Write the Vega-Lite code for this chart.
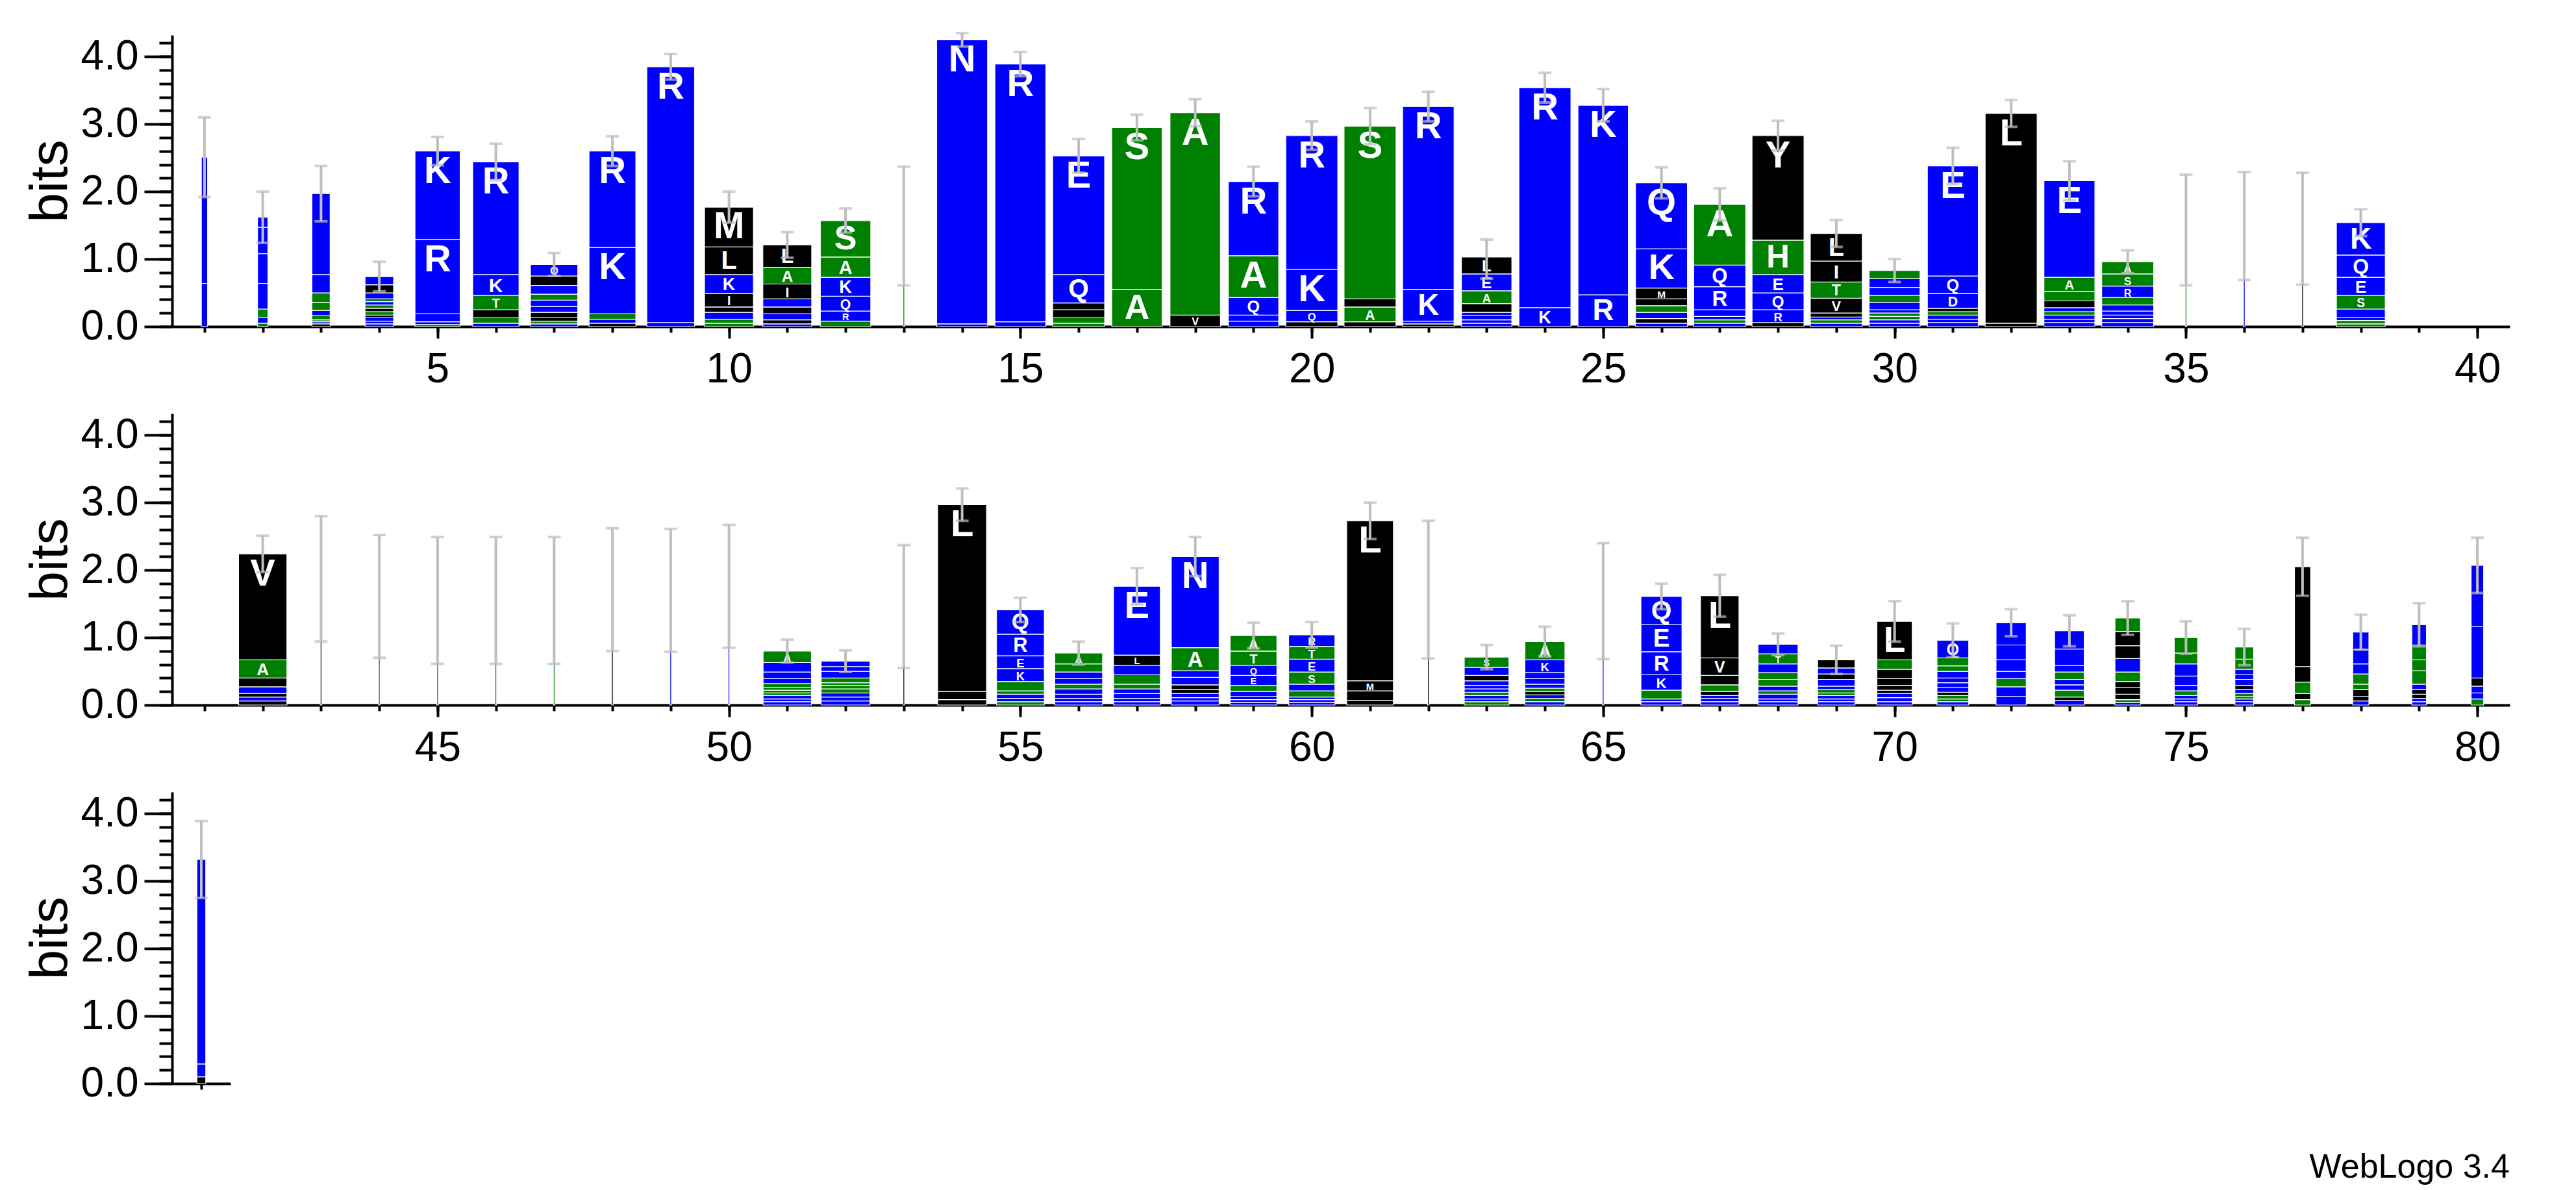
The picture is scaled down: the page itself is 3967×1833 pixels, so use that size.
{
"$schema": "https://vega.github.io/schema/vega-lite/v6.json",
"background": "white",
"padding": {"left": 36, "top": 48, "right": 10, "bottom": 10},
"spacing": 36,
"title": {"text": "WebLogo 3.4", "orient": "bottom", "anchor": "end", "fontSize": 52, "font": "Liberation Sans", "fontWeight": "normal", "color": "black", "offset": 72},
"config": {"view": {"stroke": null}, "axis": {"domainColor": "black", "tickColor": "black", "labelColor": "black", "titleColor": "black", "labelFont": "Liberation Sans", "titleFont": "Liberation Sans", "grid": false, "domainWidth": 4, "tickWidth": 4, "labelFlush": false, "labelOverlap": false}},
"datasets": {
"l1": [
{"p":1,"o":1,"l":"D","b":0.64,"w":0.12},{"p":1,"o":2,"l":"E","b":1.87,"w":0.12},
{"p":2,"o":1,"l":"S","b":0.05,"w":0.2},{"p":2,"o":2,"l":"D","b":0.08,"w":0.2},{"p":2,"o":3,"l":"P","b":0.13,"w":0.2},{"p":2,"o":4,"l":"E","b":0.38,"w":0.2},{"p":2,"o":5,"l":"R","b":0.44,"w":0.2},{"p":2,"o":6,"l":"K","b":0.39,"w":0.2},{"p":2,"o":7,"l":"N","b":0.15,"w":0.2},
{"p":3,"o":1,"l":"I","b":0.04,"w":0.35},{"p":3,"o":2,"l":"R","b":0.03,"w":0.35},{"p":3,"o":3,"l":"T","b":0.03,"w":0.35},{"p":3,"o":4,"l":"G","b":0.06,"w":0.35},{"p":3,"o":5,"l":"Q","b":0.08,"w":0.35},{"p":3,"o":6,"l":"A","b":0.12,"w":0.35},{"p":3,"o":7,"l":"S","b":0.14,"w":0.35},{"p":3,"o":8,"l":"D","b":0.27,"w":0.35},{"p":3,"o":9,"l":"E","b":1.2,"w":0.35},
{"p":4,"o":1,"l":"R","b":0.04,"w":0.55},{"p":4,"o":2,"l":"Q","b":0.04,"w":0.55},{"p":4,"o":3,"l":"N","b":0.05,"w":0.55},{"p":4,"o":4,"l":"V","b":0.04,"w":0.55},{"p":4,"o":5,"l":"T","b":0.05,"w":0.55},{"p":4,"o":6,"l":"I","b":0.05,"w":0.55},{"p":4,"o":7,"l":"S","b":0.05,"w":0.55},{"p":4,"o":8,"l":"K","b":0.05,"w":0.55},{"p":4,"o":9,"l":"A","b":0.04,"w":0.55},{"p":4,"o":10,"l":"D","b":0.09,"w":0.55},{"p":4,"o":11,"l":"L","b":0.12,"w":0.55},{"p":4,"o":12,"l":"E","b":0.12,"w":0.55},
{"p":5,"o":1,"l":"S","b":0.03,"w":0.87},{"p":5,"o":2,"l":"D","b":0.04,"w":0.87},{"p":5,"o":3,"l":"Q","b":0.12,"w":0.87},{"p":5,"o":4,"l":"R","b":1.1,"w":0.87},{"p":5,"o":5,"l":"K","b":1.31,"w":0.87},
{"p":6,"o":1,"l":"E","b":0.05,"w":0.89},{"p":6,"o":2,"l":"A","b":0.08,"w":0.89},{"p":6,"o":3,"l":"V","b":0.12,"w":0.89},{"p":6,"o":4,"l":"T","b":0.21,"w":0.89},{"p":6,"o":5,"l":"K","b":0.31,"w":0.89},{"p":6,"o":6,"l":"R","b":1.67,"w":0.89},
{"p":7,"o":1,"l":"D","b":0.04,"w":0.91},{"p":7,"o":2,"l":"S","b":0.04,"w":0.91},{"p":7,"o":3,"l":"I","b":0.05,"w":0.91},{"p":7,"o":4,"l":"V","b":0.08,"w":0.91},{"p":7,"o":5,"l":"E","b":0.09,"w":0.91},{"p":7,"o":6,"l":"K","b":0.09,"w":0.91},{"p":7,"o":7,"l":"A","b":0.09,"w":0.91},{"p":7,"o":8,"l":"R","b":0.13,"w":0.91},{"p":7,"o":9,"l":"L","b":0.14,"w":0.91},{"p":7,"o":10,"l":"Q","b":0.17,"w":0.91},
{"p":8,"o":1,"l":"L","b":0.05,"w":0.9},{"p":8,"o":2,"l":"E","b":0.06,"w":0.9},{"p":8,"o":3,"l":"S","b":0.08,"w":0.9},{"p":8,"o":4,"l":"K","b":0.98,"w":0.9},{"p":8,"o":5,"l":"R","b":1.43,"w":0.9},
{"p":9,"o":1,"l":"K","b":0.06,"w":0.92},{"p":9,"o":2,"l":"R","b":3.79,"w":0.92},
{"p":10,"o":1,"l":"T","b":0.05,"w":0.94},{"p":10,"o":2,"l":"A","b":0.06,"w":0.94},{"p":10,"o":3,"l":"E","b":0.1,"w":0.94},{"p":10,"o":4,"l":"V","b":0.08,"w":0.94},{"p":10,"o":5,"l":"I","b":0.2,"w":0.94},{"p":10,"o":6,"l":"K","b":0.28,"w":0.94},{"p":10,"o":7,"l":"L","b":0.41,"w":0.94},{"p":10,"o":8,"l":"M","b":0.59,"w":0.94},
{"p":11,"o":1,"l":"R","b":0.04,"w":0.94},{"p":11,"o":2,"l":"M","b":0.06,"w":0.94},{"p":11,"o":3,"l":"E","b":0.09,"w":0.94},{"p":11,"o":4,"l":"V","b":0.1,"w":0.94},{"p":11,"o":5,"l":"Q","b":0.12,"w":0.94},{"p":11,"o":6,"l":"I","b":0.22,"w":0.94},{"p":11,"o":7,"l":"A","b":0.25,"w":0.94},{"p":11,"o":8,"l":"L","b":0.33,"w":0.94},
{"p":12,"o":1,"l":"G","b":0.08,"w":0.97},{"p":12,"o":2,"l":"R","b":0.15,"w":0.97},{"p":12,"o":3,"l":"Q","b":0.22,"w":0.97},{"p":12,"o":4,"l":"K","b":0.28,"w":0.97},{"p":12,"o":5,"l":"A","b":0.3,"w":0.97},{"p":12,"o":6,"l":"S","b":0.54,"w":0.97},
{"p":13,"o":1,"l":"S","b":1.49,"w":0.03},
{"p":14,"o":1,"l":"K","b":0.04,"w":0.98},{"p":14,"o":2,"l":"N","b":4.21,"w":0.98},
{"p":15,"o":1,"l":"K","b":0.07,"w":0.98},{"p":15,"o":2,"l":"R","b":3.82,"w":0.98},
{"p":16,"o":1,"l":"S","b":0.05,"w":1},{"p":16,"o":2,"l":"A","b":0.08,"w":1},{"p":16,"o":3,"l":"V","b":0.12,"w":1},{"p":16,"o":4,"l":"L","b":0.1,"w":1},{"p":16,"o":5,"l":"Q","b":0.42,"w":1},{"p":16,"o":6,"l":"E","b":1.76,"w":1},
{"p":17,"o":1,"l":"A","b":0.55,"w":0.97},{"p":17,"o":2,"l":"S","b":2.4,"w":0.97},
{"p":18,"o":1,"l":"V","b":0.17,"w":0.97},{"p":18,"o":2,"l":"A","b":3.0,"w":0.97},
{"p":19,"o":1,"l":"E","b":0.08,"w":0.97},{"p":19,"o":2,"l":"K","b":0.09,"w":0.97},{"p":19,"o":3,"l":"Q","b":0.26,"w":0.97},{"p":19,"o":4,"l":"A","b":0.62,"w":0.97},{"p":19,"o":5,"l":"R","b":1.1,"w":0.97},
{"p":20,"o":1,"l":"L","b":0.07,"w":1},{"p":20,"o":2,"l":"Q","b":0.17,"w":1},{"p":20,"o":3,"l":"K","b":0.61,"w":1},{"p":20,"o":4,"l":"R","b":1.98,"w":1},
{"p":21,"o":1,"l":"V","b":0.07,"w":1},{"p":21,"o":2,"l":"A","b":0.22,"w":1},{"p":21,"o":3,"l":"Y","b":0.12,"w":1},{"p":21,"o":4,"l":"S","b":2.56,"w":1},
{"p":22,"o":1,"l":"I","b":0.04,"w":0.99},{"p":22,"o":2,"l":"E","b":0.04,"w":0.99},{"p":22,"o":3,"l":"K","b":0.47,"w":0.99},{"p":22,"o":4,"l":"R","b":2.71,"w":0.99},
{"p":23,"o":1,"l":"Q","b":0.05,"w":0.97},{"p":23,"o":2,"l":"R","b":0.05,"w":0.97},{"p":23,"o":3,"l":"K","b":0.06,"w":0.97},{"p":23,"o":4,"l":"D","b":0.05,"w":0.97},{"p":23,"o":5,"l":"M","b":0.13,"w":0.97},{"p":23,"o":6,"l":"A","b":0.19,"w":0.97},{"p":23,"o":7,"l":"E","b":0.25,"w":0.97},{"p":23,"o":8,"l":"L","b":0.25,"w":0.97},
{"p":24,"o":1,"l":"K","b":0.28,"w":1},{"p":24,"o":2,"l":"R","b":3.26,"w":1},
{"p":25,"o":1,"l":"R","b":0.47,"w":0.97},{"p":25,"o":2,"l":"K","b":2.81,"w":0.97},
{"p":26,"o":1,"l":"E","b":0.05,"w":1},{"p":26,"o":2,"l":"I","b":0.07,"w":1},{"p":26,"o":3,"l":"R","b":0.09,"w":1},{"p":26,"o":4,"l":"A","b":0.1,"w":1},{"p":26,"o":5,"l":"L","b":0.1,"w":1},{"p":26,"o":6,"l":"M","b":0.16,"w":1},{"p":26,"o":7,"l":"K","b":0.58,"w":1},{"p":26,"o":8,"l":"Q","b":0.98,"w":1},
{"p":27,"o":1,"l":"E","b":0.05,"w":1},{"p":27,"o":2,"l":"S","b":0.05,"w":1},{"p":27,"o":3,"l":"N","b":0.05,"w":1},{"p":27,"o":4,"l":"K","b":0.1,"w":1},{"p":27,"o":5,"l":"R","b":0.34,"w":1},{"p":27,"o":6,"l":"Q","b":0.32,"w":1},{"p":27,"o":7,"l":"A","b":0.9,"w":1},
{"p":28,"o":1,"l":"L","b":0.06,"w":1},{"p":28,"o":2,"l":"R","b":0.19,"w":1},{"p":28,"o":3,"l":"Q","b":0.25,"w":1},{"p":28,"o":4,"l":"E","b":0.27,"w":1},{"p":28,"o":5,"l":"H","b":0.51,"w":1},{"p":28,"o":6,"l":"Y","b":1.55,"w":1},
{"p":29,"o":1,"l":"K","b":0.05,"w":1},{"p":29,"o":2,"l":"A","b":0.05,"w":1},{"p":29,"o":3,"l":"E","b":0.04,"w":1},{"p":29,"o":4,"l":"M","b":0.06,"w":1},{"p":29,"o":5,"l":"V","b":0.22,"w":1},{"p":29,"o":6,"l":"T","b":0.24,"w":1},{"p":29,"o":7,"l":"I","b":0.31,"w":1},{"p":29,"o":8,"l":"L","b":0.41,"w":1},
{"p":30,"o":1,"l":"R","b":0.05,"w":0.98},{"p":30,"o":2,"l":"K","b":0.05,"w":0.98},{"p":30,"o":3,"l":"T","b":0.05,"w":0.98},{"p":30,"o":4,"l":"G","b":0.05,"w":0.98},{"p":30,"o":5,"l":"N","b":0.05,"w":0.98},{"p":30,"o":6,"l":"Q","b":0.11,"w":0.98},{"p":30,"o":7,"l":"S","b":0.1,"w":0.98},{"p":30,"o":8,"l":"D","b":0.12,"w":0.98},{"p":30,"o":9,"l":"E","b":0.13,"w":0.98},{"p":30,"o":10,"l":"A","b":0.12,"w":0.98},
{"p":31,"o":1,"l":"K","b":0.06,"w":0.98},{"p":31,"o":2,"l":"R","b":0.05,"w":0.98},{"p":31,"o":3,"l":"N","b":0.06,"w":0.98},{"p":31,"o":4,"l":"S","b":0.05,"w":0.98},{"p":31,"o":5,"l":"L","b":0.05,"w":0.98},{"p":31,"o":6,"l":"D","b":0.22,"w":0.98},{"p":31,"o":7,"l":"Q","b":0.26,"w":0.98},{"p":31,"o":8,"l":"E","b":1.63,"w":0.98},
{"p":32,"o":1,"l":"I","b":0.05,"w":1},{"p":32,"o":2,"l":"L","b":3.11,"w":1},
{"p":33,"o":1,"l":"Q","b":0.06,"w":0.98},{"p":33,"o":2,"l":"K","b":0.05,"w":0.98},{"p":33,"o":3,"l":"D","b":0.06,"w":0.98},{"p":33,"o":4,"l":"S","b":0.05,"w":0.98},{"p":33,"o":5,"l":"R","b":0.06,"w":0.98},{"p":33,"o":6,"l":"W","b":0.1,"w":0.98},{"p":33,"o":7,"l":"T","b":0.14,"w":0.98},{"p":33,"o":8,"l":"A","b":0.21,"w":0.98},{"p":33,"o":9,"l":"E","b":1.43,"w":0.98},
{"p":34,"o":1,"l":"K","b":0.06,"w":1},{"p":34,"o":2,"l":"E","b":0.06,"w":1},{"p":34,"o":3,"l":"N","b":0.05,"w":1},{"p":34,"o":4,"l":"D","b":0.06,"w":1},{"p":34,"o":5,"l":"Q","b":0.09,"w":1},{"p":34,"o":6,"l":"T","b":0.11,"w":1},{"p":34,"o":7,"l":"R","b":0.17,"w":1},{"p":34,"o":8,"l":"S","b":0.18,"w":1},{"p":34,"o":9,"l":"A","b":0.18,"w":1},
{"p":35,"o":1,"l":"A","b":1.43,"w":0.03},
{"p":36,"o":1,"l":"R","b":1.49,"w":0.03},
{"p":37,"o":1,"l":"L","b":1.45,"w":0.03},
{"p":38,"o":1,"l":"A","b":0.04,"w":0.94},{"p":38,"o":2,"l":"T","b":0.05,"w":0.94},{"p":38,"o":3,"l":"D","b":0.04,"w":0.94},{"p":38,"o":4,"l":"R","b":0.13,"w":0.94},{"p":38,"o":5,"l":"S","b":0.2,"w":0.94},{"p":38,"o":6,"l":"E","b":0.27,"w":0.94},{"p":38,"o":7,"l":"Q","b":0.33,"w":0.94},{"p":38,"o":8,"l":"K","b":0.48,"w":0.94}
],
"l2": [
{"p":42,"o":1,"l":"I","b":0.06,"w":0.93},{"p":42,"o":2,"l":"K","b":0.06,"w":0.93},{"p":42,"o":3,"l":"M","b":0.05,"w":0.93},{"p":42,"o":4,"l":"R","b":0.1,"w":0.93},{"p":42,"o":5,"l":"L","b":0.13,"w":0.93},{"p":42,"o":6,"l":"A","b":0.27,"w":0.93},{"p":42,"o":7,"l":"V","b":1.57,"w":0.93},
{"p":43,"o":1,"l":"L","b":1.87,"w":0.03},
{"p":44,"o":1,"l":"A","b":1.61,"w":0.03},
{"p":45,"o":1,"l":"S","b":1.55,"w":0.03},
{"p":46,"o":1,"l":"A","b":1.55,"w":0.03},
{"p":47,"o":1,"l":"S","b":1.55,"w":0.03},
{"p":48,"o":1,"l":"V","b":1.71,"w":0.03},
{"p":49,"o":1,"l":"K","b":1.7,"w":0.03},
{"p":50,"o":1,"l":"R","b":1.76,"w":0.03},
{"p":51,"o":1,"l":"R","b":0.05,"w":0.93},{"p":51,"o":2,"l":"D","b":0.04,"w":0.93},{"p":51,"o":3,"l":"N","b":0.05,"w":0.93},{"p":51,"o":4,"l":"T","b":0.04,"w":0.93},{"p":51,"o":5,"l":"S","b":0.04,"w":0.93},{"p":51,"o":6,"l":"H","b":0.04,"w":0.93},{"p":51,"o":7,"l":"G","b":0.06,"w":0.93},{"p":51,"o":8,"l":"E","b":0.07,"w":0.93},{"p":51,"o":9,"l":"K","b":0.1,"w":0.93},{"p":51,"o":10,"l":"Q","b":0.14,"w":0.93},{"p":51,"o":11,"l":"A","b":0.17,"w":0.93},
{"p":52,"o":1,"l":"K","b":0.06,"w":0.94},{"p":52,"o":2,"l":"D","b":0.06,"w":0.94},{"p":52,"o":3,"l":"N","b":0.06,"w":0.94},{"p":52,"o":4,"l":"H","b":0.06,"w":0.94},{"p":52,"o":5,"l":"G","b":0.05,"w":0.94},{"p":52,"o":6,"l":"S","b":0.04,"w":0.94},{"p":52,"o":7,"l":"T","b":0.07,"w":0.94},{"p":52,"o":8,"l":"R","b":0.1,"w":0.94},{"p":52,"o":9,"l":"E","b":0.07,"w":0.94},{"p":52,"o":10,"l":"Q","b":0.08,"w":0.94},
{"p":53,"o":1,"l":"L","b":1.46,"w":0.03},
{"p":54,"o":1,"l":"I","b":0.08,"w":0.94},{"p":54,"o":2,"l":"M","b":0.12,"w":0.94},{"p":54,"o":3,"l":"L","b":2.77,"w":0.94},
{"p":55,"o":1,"l":"A","b":0.05,"w":0.92},{"p":55,"o":2,"l":"D","b":0.05,"w":0.92},{"p":55,"o":3,"l":"N","b":0.06,"w":0.92},{"p":55,"o":4,"l":"S","b":0.05,"w":0.92},{"p":55,"o":5,"l":"T","b":0.14,"w":0.92},{"p":55,"o":6,"l":"K","b":0.19,"w":0.92},{"p":55,"o":7,"l":"E","b":0.19,"w":0.92},{"p":55,"o":8,"l":"R","b":0.32,"w":0.92},{"p":55,"o":9,"l":"Q","b":0.36,"w":0.92},
{"p":56,"o":1,"l":"R","b":0.05,"w":0.92},{"p":56,"o":2,"l":"K","b":0.05,"w":0.92},{"p":56,"o":3,"l":"N","b":0.06,"w":0.92},{"p":56,"o":4,"l":"D","b":0.08,"w":0.92},{"p":56,"o":5,"l":"S","b":0.07,"w":0.92},{"p":56,"o":6,"l":"Q","b":0.08,"w":0.92},{"p":56,"o":7,"l":"E","b":0.1,"w":0.92},{"p":56,"o":8,"l":"T","b":0.12,"w":0.92},{"p":56,"o":9,"l":"A","b":0.16,"w":0.92},
{"p":57,"o":1,"l":"R","b":0.05,"w":0.9},{"p":57,"o":2,"l":"K","b":0.05,"w":0.9},{"p":57,"o":3,"l":"D","b":0.07,"w":0.9},{"p":57,"o":4,"l":"N","b":0.07,"w":0.9},{"p":57,"o":5,"l":"T","b":0.07,"w":0.9},{"p":57,"o":6,"l":"A","b":0.14,"w":0.9},{"p":57,"o":7,"l":"Q","b":0.14,"w":0.9},{"p":57,"o":8,"l":"L","b":0.15,"w":0.9},{"p":57,"o":9,"l":"E","b":1.02,"w":0.9},
{"p":58,"o":1,"l":"D","b":0.06,"w":0.92},{"p":58,"o":2,"l":"R","b":0.05,"w":0.92},{"p":58,"o":3,"l":"Q","b":0.06,"w":0.92},{"p":58,"o":4,"l":"I","b":0.06,"w":0.92},{"p":58,"o":5,"l":"L","b":0.07,"w":0.92},{"p":58,"o":6,"l":"K","b":0.11,"w":0.92},{"p":58,"o":7,"l":"E","b":0.1,"w":0.92},{"p":58,"o":8,"l":"A","b":0.34,"w":0.92},{"p":58,"o":9,"l":"N","b":1.35,"w":0.92},
{"p":59,"o":1,"l":"R","b":0.04,"w":0.9},{"p":59,"o":2,"l":"N","b":0.04,"w":0.9},{"p":59,"o":3,"l":"D","b":0.05,"w":0.9},{"p":59,"o":4,"l":"K","b":0.07,"w":0.9},{"p":59,"o":5,"l":"S","b":0.09,"w":0.9},{"p":59,"o":6,"l":"E","b":0.15,"w":0.9},{"p":59,"o":7,"l":"Q","b":0.15,"w":0.9},{"p":59,"o":8,"l":"T","b":0.21,"w":0.9},{"p":59,"o":9,"l":"A","b":0.23,"w":0.9},
{"p":60,"o":1,"l":"K","b":0.04,"w":0.89},{"p":60,"o":2,"l":"D","b":0.04,"w":0.89},{"p":60,"o":3,"l":"N","b":0.04,"w":0.89},{"p":60,"o":4,"l":"A","b":0.09,"w":0.89},{"p":60,"o":5,"l":"Q","b":0.1,"w":0.89},{"p":60,"o":6,"l":"S","b":0.18,"w":0.89},{"p":60,"o":7,"l":"E","b":0.19,"w":0.89},{"p":60,"o":8,"l":"T","b":0.19,"w":0.89},{"p":60,"o":9,"l":"R","b":0.17,"w":0.89},
{"p":61,"o":1,"l":"I","b":0.07,"w":0.9},{"p":61,"o":2,"l":"V","b":0.14,"w":0.9},{"p":61,"o":3,"l":"M","b":0.15,"w":0.9},{"p":61,"o":4,"l":"L","b":2.37,"w":0.9},
{"p":62,"o":1,"l":"L","b":1.71,"w":0.03},
{"p":63,"o":1,"l":"A","b":0.05,"w":0.86},{"p":63,"o":2,"l":"D","b":0.04,"w":0.86},{"p":63,"o":3,"l":"Q","b":0.05,"w":0.86},{"p":63,"o":4,"l":"T","b":0.05,"w":0.86},{"p":63,"o":5,"l":"K","b":0.05,"w":0.86},{"p":63,"o":6,"l":"N","b":0.05,"w":0.86},{"p":63,"o":7,"l":"E","b":0.07,"w":0.86},{"p":63,"o":8,"l":"L","b":0.08,"w":0.86},{"p":63,"o":9,"l":"R","b":0.12,"w":0.86},{"p":63,"o":10,"l":"S","b":0.15,"w":0.86},
{"p":64,"o":1,"l":"Q","b":0.05,"w":0.77},{"p":64,"o":2,"l":"S","b":0.05,"w":0.77},{"p":64,"o":3,"l":"N","b":0.05,"w":0.77},{"p":64,"o":4,"l":"L","b":0.05,"w":0.77},{"p":64,"o":5,"l":"T","b":0.05,"w":0.77},{"p":64,"o":6,"l":"R","b":0.06,"w":0.77},{"p":64,"o":7,"l":"E","b":0.08,"w":0.77},{"p":64,"o":8,"l":"D","b":0.09,"w":0.77},{"p":64,"o":9,"l":"K","b":0.19,"w":0.77},{"p":64,"o":10,"l":"A","b":0.27,"w":0.77},
{"p":65,"o":1,"l":"K","b":1.54,"w":0.03},
{"p":66,"o":1,"l":"D","b":0.05,"w":0.79},{"p":66,"o":2,"l":"N","b":0.04,"w":0.79},{"p":66,"o":3,"l":"A","b":0.13,"w":0.79},{"p":66,"o":4,"l":"K","b":0.23,"w":0.79},{"p":66,"o":5,"l":"R","b":0.34,"w":0.79},{"p":66,"o":6,"l":"E","b":0.4,"w":0.79},{"p":66,"o":7,"l":"Q","b":0.42,"w":0.79},
{"p":67,"o":1,"l":"E","b":0.05,"w":0.74},{"p":67,"o":2,"l":"K","b":0.05,"w":0.74},{"p":67,"o":3,"l":"R","b":0.04,"w":0.74},{"p":67,"o":4,"l":"M","b":0.06,"w":0.74},{"p":67,"o":5,"l":"A","b":0.1,"w":0.74},{"p":67,"o":6,"l":"I","b":0.14,"w":0.74},{"p":67,"o":7,"l":"V","b":0.26,"w":0.74},{"p":67,"o":8,"l":"L","b":0.92,"w":0.74},
{"p":68,"o":1,"l":"D","b":0.05,"w":0.77},{"p":68,"o":2,"l":"R","b":0.04,"w":0.77},{"p":68,"o":3,"l":"Q","b":0.07,"w":0.77},{"p":68,"o":4,"l":"H","b":0.05,"w":0.77},{"p":68,"o":5,"l":"K","b":0.07,"w":0.77},{"p":68,"o":6,"l":"S","b":0.1,"w":0.77},{"p":68,"o":7,"l":"A","b":0.1,"w":0.77},{"p":68,"o":8,"l":"E","b":0.13,"w":0.77},{"p":68,"o":9,"l":"T","b":0.15,"w":0.77},{"p":68,"o":10,"l":"N","b":0.14,"w":0.77},
{"p":69,"o":1,"l":"K","b":0.05,"w":0.72},{"p":69,"o":2,"l":"D","b":0.04,"w":0.72},{"p":69,"o":3,"l":"Q","b":0.05,"w":0.72},{"p":69,"o":4,"l":"T","b":0.04,"w":0.72},{"p":69,"o":5,"l":"A","b":0.05,"w":0.72},{"p":69,"o":6,"l":"E","b":0.05,"w":0.72},{"p":69,"o":7,"l":"N","b":0.1,"w":0.72},{"p":69,"o":8,"l":"I","b":0.08,"w":0.72},{"p":69,"o":9,"l":"R","b":0.09,"w":0.72},{"p":69,"o":10,"l":"L","b":0.12,"w":0.72},
{"p":70,"o":1,"l":"E","b":0.05,"w":0.68},{"p":70,"o":2,"l":"K","b":0.06,"w":0.68},{"p":70,"o":3,"l":"R","b":0.06,"w":0.68},{"p":70,"o":4,"l":"F","b":0.05,"w":0.68},{"p":70,"o":5,"l":"M","b":0.07,"w":0.68},{"p":70,"o":6,"l":"I","b":0.1,"w":0.68},{"p":70,"o":7,"l":"V","b":0.14,"w":0.68},{"p":70,"o":8,"l":"A","b":0.14,"w":0.68},{"p":70,"o":9,"l":"L","b":0.57,"w":0.68},
{"p":71,"o":1,"l":"D","b":0.05,"w":0.61},{"p":71,"o":2,"l":"S","b":0.04,"w":0.61},{"p":71,"o":3,"l":"G","b":0.05,"w":0.61},{"p":71,"o":4,"l":"L","b":0.05,"w":0.61},{"p":71,"o":5,"l":"N","b":0.07,"w":0.61},{"p":71,"o":6,"l":"K","b":0.07,"w":0.61},{"p":71,"o":7,"l":"R","b":0.07,"w":0.61},{"p":71,"o":8,"l":"E","b":0.1,"w":0.61},{"p":71,"o":9,"l":"A","b":0.08,"w":0.61},{"p":71,"o":10,"l":"T","b":0.12,"w":0.61},{"p":71,"o":11,"l":"Q","b":0.26,"w":0.61},
{"p":72,"o":1,"l":"D","b":0.13,"w":0.58},{"p":72,"o":2,"l":"E","b":0.14,"w":0.58},{"p":72,"o":3,"l":"A","b":0.12,"w":0.58},{"p":72,"o":4,"l":"Q","b":0.11,"w":0.58},{"p":72,"o":5,"l":"N","b":0.17,"w":0.58},{"p":72,"o":6,"l":"K","b":0.22,"w":0.58},{"p":72,"o":7,"l":"R","b":0.33,"w":0.58},
{"p":73,"o":1,"l":"N","b":0.07,"w":0.57},{"p":73,"o":2,"l":"L","b":0.05,"w":0.57},{"p":73,"o":3,"l":"T","b":0.1,"w":0.57},{"p":73,"o":4,"l":"K","b":0.08,"w":0.57},{"p":73,"o":5,"l":"R","b":0.08,"w":0.57},{"p":73,"o":6,"l":"S","b":0.11,"w":0.57},{"p":73,"o":7,"l":"Q","b":0.1,"w":0.57},{"p":73,"o":8,"l":"D","b":0.24,"w":0.57},{"p":73,"o":9,"l":"E","b":0.27,"w":0.57},
{"p":74,"o":1,"l":"K","b":0.04,"w":0.49},{"p":74,"o":2,"l":"A","b":0.04,"w":0.49},{"p":74,"o":3,"l":"I","b":0.08,"w":0.49},{"p":74,"o":4,"l":"V","b":0.1,"w":0.49},{"p":74,"o":5,"l":"L","b":0.09,"w":0.49},{"p":74,"o":6,"l":"T","b":0.14,"w":0.49},{"p":74,"o":7,"l":"N","b":0.2,"w":0.49},{"p":74,"o":8,"l":"C","b":0.19,"w":0.49},{"p":74,"o":9,"l":"Y","b":0.21,"w":0.49},{"p":74,"o":10,"l":"S","b":0.2,"w":0.49},
{"p":75,"o":1,"l":"D","b":0.05,"w":0.45},{"p":75,"o":2,"l":"R","b":0.04,"w":0.45},{"p":75,"o":3,"l":"N","b":0.05,"w":0.45},{"p":75,"o":4,"l":"T","b":0.07,"w":0.45},{"p":75,"o":5,"l":"K","b":0.08,"w":0.45},{"p":75,"o":6,"l":"E","b":0.14,"w":0.45},{"p":75,"o":7,"l":"Q","b":0.18,"w":0.45},{"p":75,"o":8,"l":"A","b":0.16,"w":0.45},{"p":75,"o":9,"l":"S","b":0.23,"w":0.45},
{"p":76,"o":1,"l":"E","b":0.05,"w":0.36},{"p":76,"o":2,"l":"N","b":0.04,"w":0.36},{"p":76,"o":3,"l":"T","b":0.04,"w":0.36},{"p":76,"o":4,"l":"S","b":0.04,"w":0.36},{"p":76,"o":5,"l":"R","b":0.06,"w":0.36},{"p":76,"o":6,"l":"M","b":0.06,"w":0.36},{"p":76,"o":7,"l":"Q","b":0.09,"w":0.36},{"p":76,"o":8,"l":"D","b":0.07,"w":0.36},{"p":76,"o":9,"l":"K","b":0.08,"w":0.36},{"p":76,"o":10,"l":"A","b":0.15,"w":0.36},{"p":76,"o":11,"l":"G","b":0.18,"w":0.36},
{"p":77,"o":1,"l":"S","b":0.08,"w":0.31},{"p":77,"o":2,"l":"M","b":0.09,"w":0.31},{"p":77,"o":3,"l":"A","b":0.17,"w":0.31},{"p":77,"o":4,"l":"V","b":0.23,"w":0.31},{"p":77,"o":5,"l":"L","b":1.48,"w":0.31},
{"p":78,"o":1,"l":"D","b":0.06,"w":0.31},{"p":78,"o":2,"l":"I","b":0.07,"w":0.31},{"p":78,"o":3,"l":"L","b":0.1,"w":0.31},{"p":78,"o":4,"l":"A","b":0.08,"w":0.31},{"p":78,"o":5,"l":"T","b":0.15,"w":0.31},{"p":78,"o":6,"l":"K","b":0.15,"w":0.31},{"p":78,"o":7,"l":"E","b":0.21,"w":0.31},{"p":78,"o":8,"l":"R","b":0.26,"w":0.31},
{"p":79,"o":1,"l":"K","b":0.05,"w":0.28},{"p":79,"o":2,"l":"R","b":0.05,"w":0.28},{"p":79,"o":3,"l":"I","b":0.06,"w":0.28},{"p":79,"o":4,"l":"M","b":0.07,"w":0.28},{"p":79,"o":5,"l":"E","b":0.08,"w":0.28},{"p":79,"o":6,"l":"T","b":0.2,"w":0.28},{"p":79,"o":7,"l":"S","b":0.16,"w":0.28},{"p":79,"o":8,"l":"A","b":0.22,"w":0.28},{"p":79,"o":9,"l":"Q","b":0.3,"w":0.28},
{"p":80,"o":1,"l":"S","b":0.09,"w":0.24},{"p":80,"o":2,"l":"K","b":0.09,"w":0.24},{"p":80,"o":3,"l":"D","b":0.1,"w":0.24},{"p":80,"o":4,"l":"I","b":0.12,"w":0.24},{"p":80,"o":5,"l":"Q","b":0.76,"w":0.24},{"p":80,"o":6,"l":"E","b":0.91,"w":0.24}
],
"l3": [
{"p":81,"o":1,"l":"V","b":0.1,"w":0.17},{"p":81,"o":2,"l":"K","b":0.19,"w":0.17},{"p":81,"o":3,"l":"N","b":3.03,"w":0.17}
],
"e1": [
{"p":1,"t":2.51,"e":0.59},{"p":2,"t":1.62,"e":0.38},{"p":3,"t":1.97,"e":0.41},{"p":4,"t":0.74,"e":0.22},{"p":5,"t":2.6,"e":0.21},{"p":6,"t":2.44,"e":0.27},{"p":7,"t":0.92,"e":0.17},{"p":8,"t":2.6,"e":0.22},{"p":9,"t":3.85,"e":0.19},{"p":10,"t":1.77,"e":0.23},{"p":11,"t":1.21,"e":0.19},{"p":12,"t":1.57,"e":0.18},{"p":13,"t":1.49,"e":0.88},{"p":14,"t":4.25,"e":0.1},{"p":15,"t":3.89,"e":0.18},{"p":16,"t":2.53,"e":0.25},{"p":17,"t":2.95,"e":0.19},{"p":18,"t":3.17,"e":0.2},{"p":19,"t":2.15,"e":0.22},{"p":20,"t":2.83,"e":0.21},{"p":21,"t":2.97,"e":0.27},{"p":22,"t":3.26,"e":0.22},{"p":23,"t":1.0,"e":0.29},{"p":24,"t":3.54,"e":0.22},{"p":25,"t":3.28,"e":0.24},{"p":26,"t":2.13,"e":0.23},{"p":27,"t":1.81,"e":0.24},{"p":28,"t":2.83,"e":0.22},{"p":29,"t":1.38,"e":0.2},{"p":30,"t":0.83,"e":0.17},{"p":31,"t":2.38,"e":0.27},{"p":32,"t":3.16,"e":0.2},{"p":33,"t":2.16,"e":0.29},{"p":34,"t":0.96,"e":0.17},{"p":35,"t":1.43,"e":0.82},{"p":36,"t":1.49,"e":0.8},{"p":37,"t":1.45,"e":0.83},{"p":38,"t":1.54,"e":0.2}
],
"e2": [
{"p":42,"t":2.24,"e":0.27},{"p":43,"t":1.87,"e":0.93},{"p":44,"t":1.61,"e":0.91},{"p":45,"t":1.55,"e":0.94},{"p":46,"t":1.55,"e":0.94},{"p":47,"t":1.55,"e":0.94},{"p":48,"t":1.71,"e":0.91},{"p":49,"t":1.7,"e":0.91},{"p":50,"t":1.76,"e":0.91},{"p":51,"t":0.8,"e":0.17},{"p":52,"t":0.65,"e":0.16},{"p":53,"t":1.46,"e":0.91},{"p":54,"t":2.97,"e":0.24},{"p":55,"t":1.41,"e":0.18},{"p":56,"t":0.77,"e":0.17},{"p":57,"t":1.76,"e":0.27},{"p":58,"t":2.2,"e":0.29},{"p":59,"t":1.03,"e":0.19},{"p":60,"t":1.04,"e":0.19},{"p":61,"t":2.73,"e":0.27},{"p":62,"t":1.71,"e":1.02},{"p":63,"t":0.71,"e":0.18},{"p":64,"t":0.94,"e":0.22},{"p":65,"t":1.54,"e":0.86},{"p":66,"t":1.61,"e":0.19},{"p":67,"t":1.62,"e":0.31},{"p":68,"t":0.9,"e":0.16},{"p":69,"t":0.67,"e":0.21},{"p":70,"t":1.24,"e":0.3},{"p":71,"t":0.96,"e":0.25},{"p":72,"t":1.22,"e":0.2},{"p":73,"t":1.1,"e":0.23},{"p":74,"t":1.29,"e":0.25},{"p":75,"t":1.0,"e":0.24},{"p":76,"t":0.86,"e":0.27},{"p":77,"t":2.05,"e":0.43},{"p":78,"t":1.08,"e":0.26},{"p":79,"t":1.19,"e":0.32},{"p":80,"t":2.07,"e":0.41}
],
"e3": [
{"p":81,"t":3.32,"e":0.57}
]
},
"vconcat": [
{
"width": 3600, "height": 449,
"layer": [
{"data": {"name": "l1"}, "mark": {"type": "bar", "stroke": "white", "strokeWidth": 1.2},
 "encoding": {
  "x": {"field": "p", "type": "quantitative", "scale": {"domain": [0.5, 40.5], "nice": false, "zero": false},
        "axis": {"orient": "bottom", "values": [5,10,15,20,25,30,35,40], "tickSize": 18, "labelFontSize": 64, "labelPadding": 16, "title": null}},
  "y": {"field": "b", "type": "quantitative", "stack": "zero", "scale": {"domain": [0, 4.32], "nice": false},
        "axis": {"orient": "left", "values": [0,1,2,3,4], "format": ".1f", "tickSize": 43, "labelFontSize": 64, "labelPadding": 9, "title": "bits", "titleFontSize": 82, "titleFontWeight": "normal", "titlePadding": 5}},
  "order": {"field": "o", "type": "quantitative"},
  "color": {"field": "l", "type": "nominal", "legend": null, "scale": {"domain": ["R","K","D","E","N","Q","S","G","H","T","A","P","Y","V","M","C","L","F","I","W"], "range": ["#0000FF","#0000FF","#0000FF","#0000FF","#0000FF","#0000FF","#008000","#008000","#008000","#008000","#008000","#008000","#000000","#000000","#000000","#000000","#000000","#000000","#000000","#000000"]}},
  "size": {"field": "w", "type": "quantitative", "legend": null, "scale": {"domain": [0, 1], "range": [0, 80]}}
 }},
{"data": {"name": "l1"},
 "transform": [{"stack": "b", "groupby": ["p"], "sort": [{"field": "o", "order": "ascending"}], "as": ["y0", "y1"]}, {"filter": "datum.w >= 0.6 && datum.b >= 0.15"}],
 "mark": {"type": "text", "color": "white", "font": "Liberation Sans", "fontWeight": "bold", "baseline": "top", "align": "center", "dy": 3},
 "encoding": {
  "x": {"field": "p", "type": "quantitative", "scale": {"domain": [0.5, 40.5], "nice": false, "zero": false},
        "axis": {"orient": "bottom", "values": [1,2,3,4,5,6,7,8,9,10,11,12,13,14,15,16,17,18,19,20,21,22,23,24,25,26,27,28,29,30,31,32,33,34,35,36,37,38,39,40], "tickSize": 9, "labels": false, "domain": false, "title": null}},
  "y": {"field": "y1", "type": "quantitative", "scale": {"domain": [0, 4.32], "nice": false},
        "axis": {"orient": "left", "values": [0,0.2,0.4,0.6,0.8,1,1.2,1.4,1.6,1.8,2,2.2,2.4,2.6,2.8,3,3.2,3.4,3.6,3.8,4,4.2], "tickSize": 20, "labels": false, "domain": false, "title": null}},
  "text": {"field": "l"},
  "size": {"field": "b", "type": "quantitative", "legend": null, "scale": {"domain": [0, 0.6], "range": [0, 58], "clamp": true}}
 }},
{"data": {"name": "e1"}, "mark": {"type": "errorbar", "color": "#BEBEBE", "thickness": 4, "ticks": {"size": 20}},
 "encoding": {
  "x": {"field": "p", "type": "quantitative", "axis": null},
  "y": {"field": "t", "type": "quantitative", "axis": null},
  "yError": {"field": "e"}
 }}
],
"resolve": {"scale": {"size": "independent"}, "axis": {"x": "independent", "y": "independent"}}
},
{
"width": 3600, "height": 449,
"layer": [
{"data": {"name": "l2"}, "mark": {"type": "bar", "stroke": "white", "strokeWidth": 1.2},
 "encoding": {
  "x": {"field": "p", "type": "quantitative", "scale": {"domain": [40.5, 80.5], "nice": false, "zero": false},
        "axis": {"orient": "bottom", "values": [45,50,55,60,65,70,75,80], "tickSize": 18, "labelFontSize": 64, "labelPadding": 16, "title": null}},
  "y": {"field": "b", "type": "quantitative", "stack": "zero", "scale": {"domain": [0, 4.32], "nice": false},
        "axis": {"orient": "left", "values": [0,1,2,3,4], "format": ".1f", "tickSize": 43, "labelFontSize": 64, "labelPadding": 9, "title": "bits", "titleFontSize": 82, "titleFontWeight": "normal", "titlePadding": 5}},
  "order": {"field": "o", "type": "quantitative"},
  "color": {"field": "l", "type": "nominal", "legend": null, "scale": {"domain": ["R","K","D","E","N","Q","S","G","H","T","A","P","Y","V","M","C","L","F","I","W"], "range": ["#0000FF","#0000FF","#0000FF","#0000FF","#0000FF","#0000FF","#008000","#008000","#008000","#008000","#008000","#008000","#000000","#000000","#000000","#000000","#000000","#000000","#000000","#000000"]}},
  "size": {"field": "w", "type": "quantitative", "legend": null, "scale": {"domain": [0, 1], "range": [0, 80]}}
 }},
{"data": {"name": "l2"},
 "transform": [{"stack": "b", "groupby": ["p"], "sort": [{"field": "o", "order": "ascending"}], "as": ["y0", "y1"]}, {"filter": "datum.w >= 0.6 && datum.b >= 0.15"}],
 "mark": {"type": "text", "color": "white", "font": "Liberation Sans", "fontWeight": "bold", "baseline": "top", "align": "center", "dy": 3},
 "encoding": {
  "x": {"field": "p", "type": "quantitative", "scale": {"domain": [40.5, 80.5], "nice": false, "zero": false},
        "axis": {"orient": "bottom", "values": [41,42,43,44,45,46,47,48,49,50,51,52,53,54,55,56,57,58,59,60,61,62,63,64,65,66,67,68,69,70,71,72,73,74,75,76,77,78,79,80], "tickSize": 9, "labels": false, "domain": false, "title": null}},
  "y": {"field": "y1", "type": "quantitative", "scale": {"domain": [0, 4.32], "nice": false},
        "axis": {"orient": "left", "values": [0,0.2,0.4,0.6,0.8,1,1.2,1.4,1.6,1.8,2,2.2,2.4,2.6,2.8,3,3.2,3.4,3.6,3.8,4,4.2], "tickSize": 20, "labels": false, "domain": false, "title": null}},
  "text": {"field": "l"},
  "size": {"field": "b", "type": "quantitative", "legend": null, "scale": {"domain": [0, 0.6], "range": [0, 58], "clamp": true}}
 }},
{"data": {"name": "e2"}, "mark": {"type": "errorbar", "color": "#BEBEBE", "thickness": 4, "ticks": {"size": 20}},
 "encoding": {
  "x": {"field": "p", "type": "quantitative", "axis": null},
  "y": {"field": "t", "type": "quantitative", "axis": null},
  "yError": {"field": "e"}
 }}
],
"resolve": {"scale": {"size": "independent"}, "axis": {"x": "independent", "y": "independent"}}
},
{
"width": 90, "height": 449,
"layer": [
{"data": {"name": "l3"}, "mark": {"type": "bar", "stroke": "white", "strokeWidth": 1.2},
 "encoding": {
  "x": {"field": "p", "type": "quantitative", "scale": {"domain": [80.5, 81.5], "nice": false, "zero": false},
        "axis": {"orient": "bottom", "values": [81], "tickSize": 9, "labels": false, "title": null}},
  "y": {"field": "b", "type": "quantitative", "stack": "zero", "scale": {"domain": [0, 4.32], "nice": false},
        "axis": {"orient": "left", "values": [0,1,2,3,4], "format": ".1f", "tickSize": 43, "labelFontSize": 64, "labelPadding": 9, "title": "bits", "titleFontSize": 82, "titleFontWeight": "normal", "titlePadding": 5}},
  "order": {"field": "o", "type": "quantitative"},
  "color": {"field": "l", "type": "nominal", "legend": null, "scale": {"domain": ["R","K","D","E","N","Q","S","G","H","T","A","P","Y","V","M","C","L","F","I","W"], "range": ["#0000FF","#0000FF","#0000FF","#0000FF","#0000FF","#0000FF","#008000","#008000","#008000","#008000","#008000","#008000","#000000","#000000","#000000","#000000","#000000","#000000","#000000","#000000"]}},
  "size": {"field": "w", "type": "quantitative", "legend": null, "scale": {"domain": [0, 1], "range": [0, 80]}}
 }},
{"data": {"name": "e3"}, "mark": {"type": "errorbar", "color": "#BEBEBE", "thickness": 4, "ticks": {"size": 20}},
 "encoding": {
  "x": {"field": "p", "type": "quantitative", "axis": null},
  "y": {"field": "t", "type": "quantitative", "axis": {"orient": "left", "values": [0,0.2,0.4,0.6,0.8,1,1.2,1.4,1.6,1.8,2,2.2,2.4,2.6,2.8,3,3.2,3.4,3.6,3.8,4,4.2], "tickSize": 20, "labels": false, "domain": false, "title": null}},
  "yError": {"field": "e"}
 }}
],
"resolve": {"axis": {"x": "independent", "y": "independent"}}
}
]
}
